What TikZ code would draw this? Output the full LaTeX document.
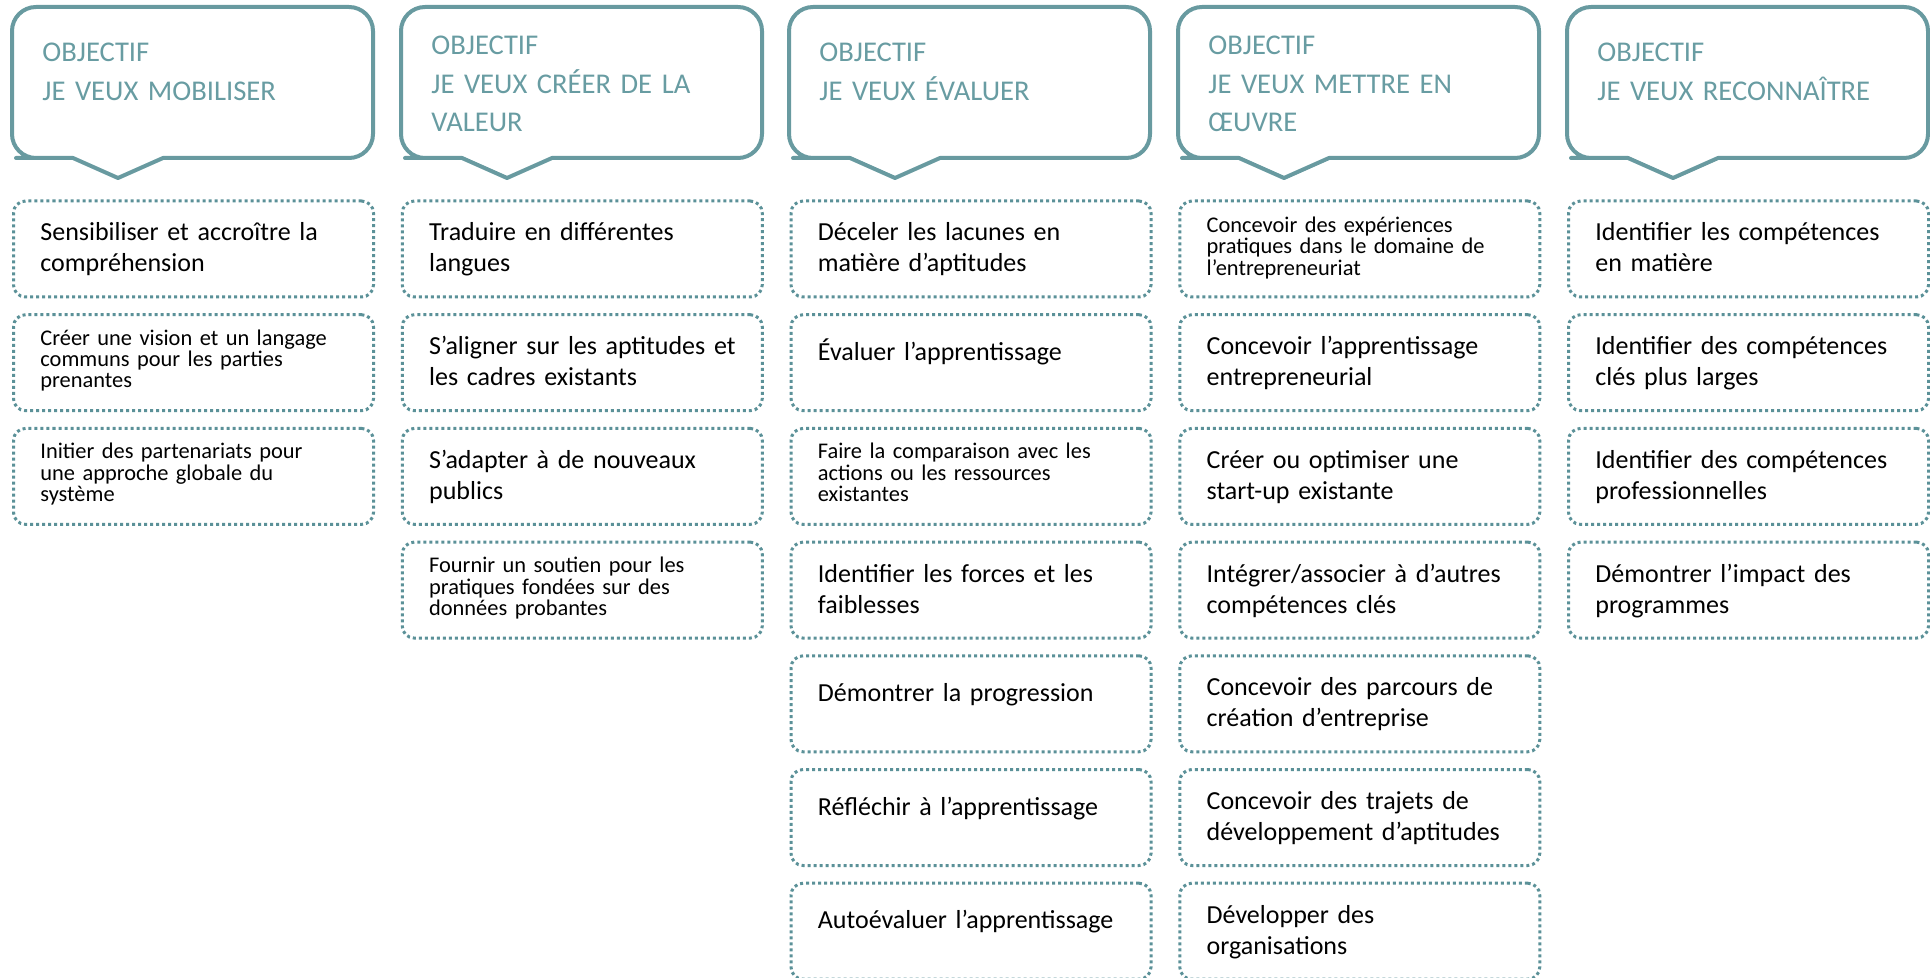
\documentclass[tikz,border=0pt]{standalone}
\usepackage{fontspec}
\setmainfont{Carlito}
\usetikzlibrary{positioning}
\definecolor{tealline}{RGB}{104,154,160}
\definecolor{tealtext}{RGB}{104,156,162}
\definecolor{tealdot}{RGB}{91,145,152}

\begin{document}
\begin{tikzpicture}[x=0.5pt, y=-0.5pt,
    bubble/.style={draw=tealline, line width=2pt, line join=round, line cap=round},
    head/.style={text=tealtext, font=\fontsize{14.3pt}{19.25pt}\selectfont, anchor=base west, inner sep=0pt, text width=170pt, align=left},
    item/.style={draw=tealdot, line width=1.5pt, dash pattern=on 1.5pt off 1.5pt, rounded corners=6pt, minimum width=180pt, minimum height=48pt, anchor=north west, inner sep=0pt},
    big/.style={font=\fontsize{13pt}{15.5pt}\selectfont, anchor=base west, inner sep=0pt, text width=170pt, align=left},
    small/.style={font=\fontsize{11.2pt}{10.7pt}\selectfont, anchor=base west, inner sep=0pt, text width=170pt, align=left}]
        \useasboundingbox (0,0) rectangle (1930,978);

        % callouts
        \draw[bubble] (163,158) -- (190,158) [rounded corners=12pt] -- (373,158) -- (373,7) -- (12,7) -- (12,158) -- (40,158) [sharp corners] -- (73,158) -- (118,178) -- cycle;
        \draw[bubble] (552,158) -- (579,158) [rounded corners=12pt] -- (762,158) -- (762,7) -- (401,7) -- (401,158) -- (429,158) [sharp corners] -- (462,158) -- (507,178) -- cycle;
        \draw[bubble] (940,158) -- (967,158) [rounded corners=12pt] -- (1150,158) -- (1150,7) -- (789,7) -- (789,158) -- (817,158) [sharp corners] -- (850,158) -- (895,178) -- cycle;
        \draw[bubble] (1329,158) -- (1356,158) [rounded corners=12pt] -- (1539,158) -- (1539,7) -- (1178,7) -- (1178,158) -- (1206,158) [sharp corners] -- (1239,158) -- (1284,178) -- cycle;
        \draw[bubble] (1718,158) -- (1745,158) [rounded corners=12pt] -- (1928,158) -- (1928,7) -- (1567,7) -- (1567,158) -- (1595,158) [sharp corners] -- (1628,158) -- (1673,178) -- cycle;

        \node[head] (h1) at (42,62) {OBJECTIF\\JE VEUX MOBILISER};
        \node[head] (h2) at (431,55) {OBJECTIF\\JE VEUX CRÉER DE LA\\VALEUR};
        \node[head] (h3) at (819,62) {OBJECTIF\\JE VEUX ÉVALUER};
        \node[head] (h4) at (1208,55) {OBJECTIF\\JE VEUX METTRE EN\\ŒUVRE};
        \node[head] (h5) at (1597,62) {OBJECTIF\\JE VEUX RECONNAÎTRE};

        % column 1
        \node[item] (b11) at (12,199.5) {};
        \node[item] (b12) at (12,313.2) {};
        \node[item] (b13) at (12,426.9) {};
        \node[big] (t11) at ([shift={(28,41.5)}]b11.north west) {Sensibiliser et accroître la\\compréhension};
        \node[small] (t12) at ([shift={(28,32)}]b12.north west) {Créer une vision et un langage\\communs pour les parties\\prenantes};
        \node[small] (t13) at ([shift={(28,32)}]b13.north west) {Initier des partenariats pour\\une approche globale du\\système};

        % column 2
        \node[item] (b21) at (400.75,199.5) {};
        \node[item] (b22) at (400.75,313.2) {};
        \node[item] (b23) at (400.75,426.9) {};
        \node[item] (b24) at (400.75,540.6) {};
        \node[big] (t21) at ([shift={(28,41.5)}]b21.north west) {Traduire en différentes\\langues};
        \node[big] (t22) at ([shift={(28,41.5)}]b22.north west) {S’aligner sur les aptitudes et\\les cadres existants};
        \node[big] (t23) at ([shift={(28,41.5)}]b23.north west) {S’adapter à de nouveaux\\publics};
        \node[small] (t24) at ([shift={(28,32)}]b24.north west) {Fournir un soutien pour les\\pratiques fondées sur des\\données probantes};

        % column 3
        \node[item] (b31) at (789.5,199.5) {};
        \node[item] (b32) at (789.5,313.2) {};
        \node[item] (b33) at (789.5,426.9) {};
        \node[item] (b34) at (789.5,540.6) {};
        \node[item] (b35) at (789.5,654.3) {};
        \node[item] (b36) at (789.5,768) {};
        \node[item] (b37) at (789.5,881.7) {};
        \node[big] (t31) at ([shift={(28,41.5)}]b31.north west) {Déceler les lacunes en\\matière d’aptitudes};
        \node[big] (t32) at ([shift={(28,47)}]b32.north west) {Évaluer l’apprentissage};
        \node[small] (t33) at ([shift={(28,32)}]b33.north west) {Faire la comparaison avec les\\actions ou les ressources\\existantes};
        \node[big] (t34) at ([shift={(28,41.5)}]b34.north west) {Identifier les forces et les\\faiblesses};
        \node[big] (t35) at ([shift={(28,47)}]b35.north west) {Démontrer la progression};
        \node[big] (t36) at ([shift={(28,47)}]b36.north west) {Réfléchir à l’apprentissage};
        \node[big] (t37) at ([shift={(28,47)}]b37.north west) {Autoévaluer l’apprentissage};

        % column 4
        \node[item] (b41) at (1178.25,199.5) {};
        \node[item] (b42) at (1178.25,313.2) {};
        \node[item] (b43) at (1178.25,426.9) {};
        \node[item] (b44) at (1178.25,540.6) {};
        \node[item] (b45) at (1178.25,654.3) {};
        \node[item] (b46) at (1178.25,768) {};
        \node[item] (b47) at (1178.25,881.7) {};
        \node[small] (t41) at ([shift={(28,33)}]b41.north west) {Concevoir des expériences\\pratiques dans le domaine de\\l’entrepreneuriat};
        \node[big] (t42) at ([shift={(28,41.5)}]b42.north west) {Concevoir l’apprentissage\\entrepreneurial};
        \node[big] (t43) at ([shift={(28,41.5)}]b43.north west) {Créer ou optimiser une\\start-up existante};
        \node[big] (t44) at ([shift={(28,41.5)}]b44.north west) {Intégrer/associer à d’autres\\compétences clés};
        \node[big] (t45) at ([shift={(28,41.5)}]b45.north west) {Concevoir des parcours de\\création d’entreprise};
        \node[big] (t46) at ([shift={(28,41.5)}]b46.north west) {Concevoir des trajets de\\développement d’aptitudes};
        \node[big] (t47) at ([shift={(28,41.5)}]b47.north west) {Développer des\\organisations};

        % column 5
        \node[item] (b51) at (1567,199.5) {};
        \node[item] (b52) at (1567,313.2) {};
        \node[item] (b53) at (1567,426.9) {};
        \node[item] (b54) at (1567,540.6) {};
        \node[big] (t51) at ([shift={(28,41.5)}]b51.north west) {Identifier les compétences\\en matière};
        \node[big] (t52) at ([shift={(28,41.5)}]b52.north west) {Identifier des compétences\\clés plus larges};
        \node[big] (t53) at ([shift={(28,41.5)}]b53.north west) {Identifier des compétences\\professionnelles};
        \node[big] (t54) at ([shift={(28,41.5)}]b54.north west) {Démontrer l’impact des\\programmes};
    \end{tikzpicture}
\end{document}
